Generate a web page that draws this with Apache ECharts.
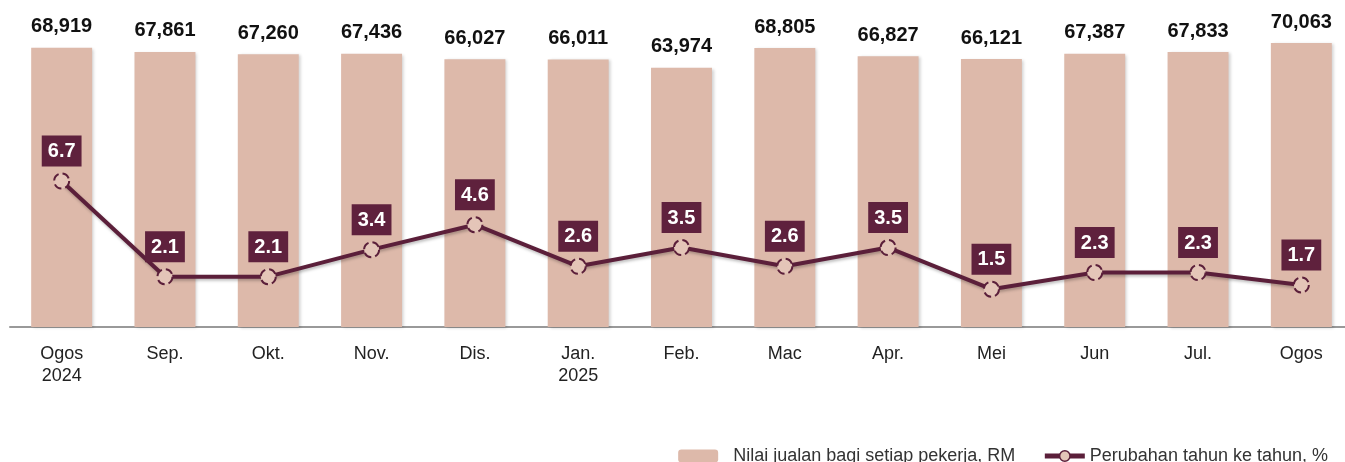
<!DOCTYPE html>
<html>
<head>
<meta charset="utf-8">
<script src="https://cdn.jsdelivr.net/npm/echarts@6/dist/echarts.min.js"></script>
<style>
html,body{margin:0;padding:0;background:#fff;}
#chart{width:1345px;height:462px;}
</style>
</head>
<body>
<div id="chart"></div>
<script>
const categories = ['Ogos\n2024','Sep.','Okt.','Nov.','Dis.','Jan.\n2025','Feb.','Mac','Apr.','Mei','Jun','Jul.','Ogos'];
const salesPerWorker = [68919, 67861, 67260, 67436, 66027, 66011, 63974, 68805, 66827, 66121, 67387, 67833, 70063];
const yoyChange = [6.7, 2.1, 2.1, 3.4, 4.6, 2.6, 3.5, 2.6, 3.5, 1.5, 2.3, 2.3, 1.7];
const barName = 'Nilai jualan bagi setiap pekerja, RM';
const lineName = 'Perubahan tahun ke tahun, %';

const FONT = '"Liberation Sans", Arial, sans-serif';
const chart = echarts.init(document.getElementById('chart'), null, {renderer: 'canvas'});
chart.setOption({
  animation: false,
  backgroundColor: '#ffffff',
  textStyle: {fontFamily: FONT},
  grid: {left: 10, width: 1343, top: 23, bottom: 135, containLabel: false, outerBoundsMode: 'none'},
  legend: {
    right: 12,
    top: 441,
    itemGap: 27,
    itemWidth: 40,
    itemHeight: 13,
    textStyle: {fontFamily: FONT, fontSize: 18, color: '#333', lineHeight: 20},
    data: [
      {name: barName, textStyle: {padding: [0, 0, 0, 10]}},
      {name: lineName, itemStyle: {color: '#E4C5B8', borderColor: '#5B1F3A', borderWidth: 1.5}, lineStyle: {width: 5, color: '#5B1F3A'}}
    ]
  },
  xAxis: {
    type: 'category',
    data: categories,
    axisLine: {show: true, lineStyle: {color: '#999', width: 2}},
    axisTick: {show: false},
    axisLabel: {fontFamily: FONT, fontSize: 18, color: '#222', margin: 16, lineHeight: 22, interval: 0}
  },
  yAxis: [
    {type: 'value', min: 0, max: 75000, show: false, splitLine: {show: false}},
    {type: 'value', min: -0.32, max: 14.3, show: false, splitLine: {show: false}}
  ],
  series: [
    {
      name: barName,
      type: 'bar',
      data: salesPerWorker,
      barWidth: '59%',
      itemStyle: {color: '#DDB9AA', shadowColor: 'rgba(0,0,0,0.18)', shadowBlur: 3, shadowOffsetX: 2, shadowOffsetY: 1},
      label: {
        show: true,
        position: 'top',
        distance: 11,
        fontFamily: FONT,
        fontSize: 20,
        fontWeight: 'bold',
        color: '#111',
        formatter: p => Number(p.value).toLocaleString('en-US')
      }
    },
    {
      name: lineName,
      type: 'line',
      yAxisIndex: 1,
      data: yoyChange,
      symbol: 'circle',
      symbolSize: 15,
      lineStyle: {color: '#5B1F3A', width: 4, shadowColor: 'rgba(0,0,0,0.25)', shadowBlur: 3, shadowOffsetX: 1, shadowOffsetY: 2},
      itemStyle: {color: '#E4C5B8', borderColor: '#5B1F3A', borderWidth: 2, borderType: 'dashed'},
      label: {
        show: true,
        position: 'top',
        distance: 6,
        fontFamily: FONT,
        fontSize: 20,
        fontWeight: 'bold',
        color: '#ffffff',
        backgroundColor: '#5F213D',
        padding: [6, 6, 5, 6],
        formatter: p => Number(p.value).toFixed(1)
      },
      z: 3
    }
  ]
});
</script>
</body>
</html>
